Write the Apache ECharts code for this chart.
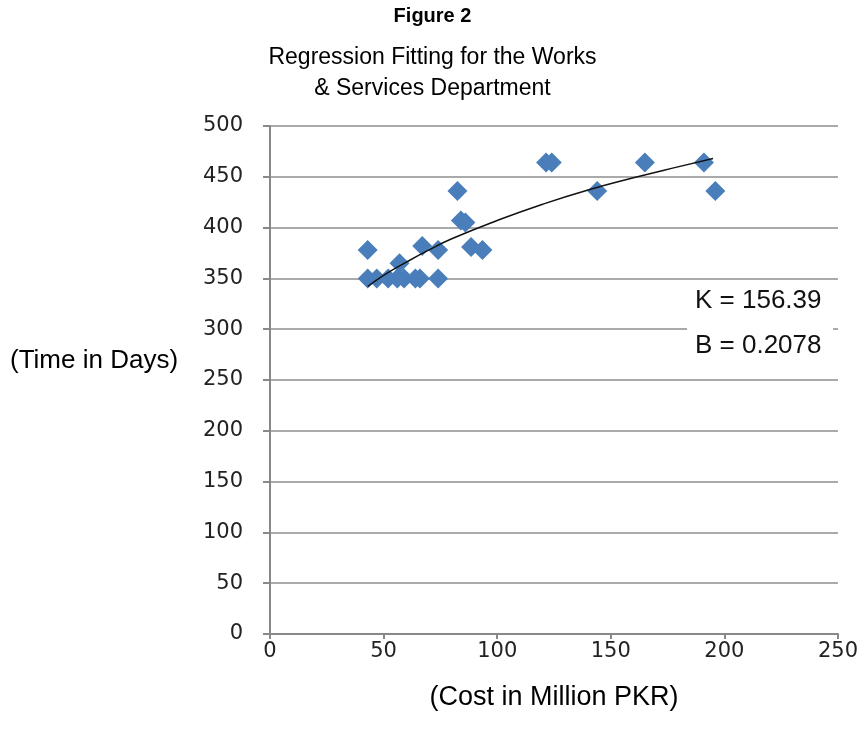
<!DOCTYPE html>
<html>
<head>
<meta charset="utf-8">
<script src="https://cdn.jsdelivr.net/npm/echarts@6/dist/echarts.min.js"></script>
<style>
  html, body { margin: 0; padding: 0; background: #fff; }
  #main { width: 865px; height: 735px; }
</style>
</head>
<body>
<div id="main"></div>
<script>
// 散点数据 (cost, days)
const costs = [43, 43, 47, 52, 56, 57, 59, 64, 66, 67, 74, 74, 82.5, 84, 86, 88.5, 93.5, 121.5, 124, 144, 165, 191, 196]
const days  = [378, 350, 350, 350, 350, 365, 350, 350, 350, 382, 378, 350, 436, 407, 405, 381, 378, 464, 464, 436, 464, 464, 436]
// 趋势线
const fitX = [43, 50, 60, 70, 80, 100, 120, 140, 160, 180, 195]
const fitY = [342, 353, 366, 378, 389, 407, 423, 437, 449, 460, 468]
const fitText = ['K = 156.39', 'B = 0.2078']
const xTicks = [0, 250, 50]
const yTicks = [0, 500, 50]

const font = '"Liberation Sans", sans-serif'

const chart = echarts.init(document.getElementById('main'))
chart.setOption({
  animation: false,
  title: [
    {
      text: 'Figure 2',
      left: 'center', top: 1,
      textStyle: { fontFamily: font, fontSize: 20, fontWeight: 'bold', color: '#000' }
    },
    {
      text: 'Regression Fitting for the Works\n& Services Department',
      left: 'center', top: 37,
      textStyle: { fontFamily: font, fontSize: 23, fontWeight: 'normal', color: '#000', lineHeight: 31 }
    }
  ],
  grid: { left: 270, right: 27, top: 126, bottom: 101 },
  xAxis: {
    type: 'value',
    min: xTicks[0], max: xTicks[1], interval: xTicks[2],
    name: '(Cost in Million PKR)',
    nameLocation: 'middle', nameGap: 50,
    nameTextStyle: { fontFamily: font, fontSize: 27, color: '#000' },
    axisLine: { lineStyle: { color: '#888', width: 2 } },
    axisTick: { show: true, length: 5, lineStyle: { color: '#888', width: 2 } },
    axisLabel: { fontFamily: 'DejaVu Sans', fontSize: 21, color: '#222', margin: 7 },
    splitLine: { show: false }
  },
  yAxis: {
    type: 'value',
    min: yTicks[0], max: yTicks[1], interval: yTicks[2],
    axisLine: { show: true, lineStyle: { color: '#888', width: 2 } },
    axisTick: { show: true, length: 7, lineStyle: { color: '#888', width: 2 } },
    axisLabel: { fontFamily: 'DejaVu Sans', fontSize: 21, color: '#222', margin: 27 },
    splitLine: { lineStyle: { color: '#aaa', width: 2 } }
  },
  graphic: [
    {
      type: 'text', left: 10, top: 348,
      style: { text: '(Time in Days)', font: '26px ' + font, fill: '#000' }
    },
    {
      type: 'rect', z: 10,
      shape: { x: 687, y: 284, width: 146, height: 88 },
      style: { fill: '#fff' }
    },
    {
      type: 'text', z: 11, left: 695, top: 288,
      style: { text: fitText[0], font: '26px ' + font, fill: '#111' }
    },
    {
      type: 'text', z: 11, left: 695, top: 333,
      style: { text: fitText[1], font: '26px ' + font, fill: '#111' }
    }
  ],
  series: [
    {
      type: 'scatter',
      symbol: 'diamond',
      symbolSize: 20,
      itemStyle: { color: '#4a7ebb', opacity: 1 },
      data: costs.map((c, i) => [c, days[i]])
    },
    {
      type: 'line',
      smooth: true,
      symbol: 'none',
      lineStyle: { color: '#111', width: 1.5 },
      data: fitX.map((x, i) => [x, fitY[i]]),
      z: 3
    }
  ]
})
</script>
</body>
</html>
